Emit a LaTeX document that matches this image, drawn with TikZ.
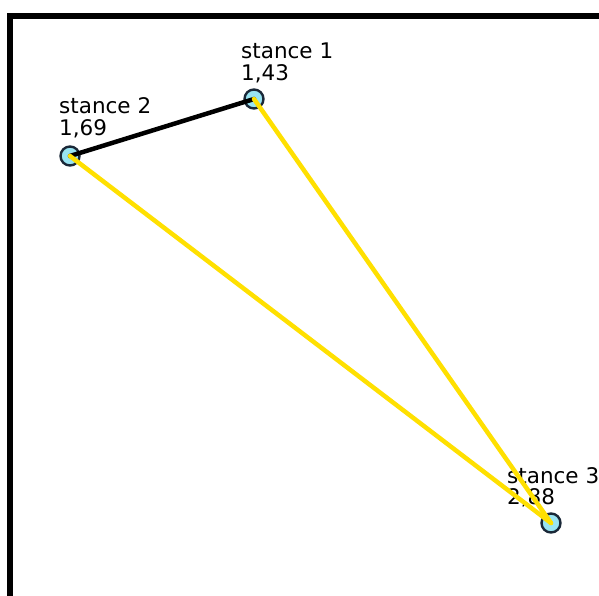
\documentclass[tikz,border=0pt]{standalone}
\usepackage{fontspec}
\setmainfont{DejaVu Sans}
\definecolor{nodefill}{HTML}{99E4F2}
\definecolor{nodeline}{HTML}{1A2838}
\definecolor{edgeyellow}{HTML}{FFE000}
\tikzset{
  stancenode/.style={circle, draw=nodeline, line width=2.4pt, fill=nodefill, minimum size=19pt, inner sep=0pt},
  lbl/.style={anchor=base west, inner sep=0pt, font=\fontsize{21.5}{22}\selectfont, text=black},
  blackedge/.style={draw=black, line width=4.5pt, line cap=round},
  yellowedge/.style={draw=edgeyellow, line width=4.5pt, line cap=round}
}
\begin{document}
\begin{tikzpicture}[x=1pt,y=-1pt]
\useasboundingbox (0,0) rectangle (599,595);
\fill[white] (0,0) rectangle (599,595);
% frame
\draw[line width=6pt, line join=miter] (10,600) -- (10,16) -- (605,16);
% nodes
\node[stancenode] (s1) at (254,99) {};
\node[stancenode] (s2) at (70,156) {};
\node[stancenode] (s3) at (551,523) {};
% labels
\node[lbl] (l1a) at (241,58) {stance 1};
\node[lbl] (l1b) at (241,80) {1,43};
\node[lbl] (l2a) at (59,113) {stance 2};
\node[lbl] (l2b) at (59,135) {1,69};
\node[lbl] (l3a) at (507,483) {stance 3};
\node[lbl] (l3b) at (507,504) {2,88};
% edges
\draw[blackedge] (s2.center) -- (s1.center);
\draw[yellowedge] (s1.center) -- (s3.center);
\draw[yellowedge] (s2.center) -- (s3.center);
\end{tikzpicture}
\end{document}
